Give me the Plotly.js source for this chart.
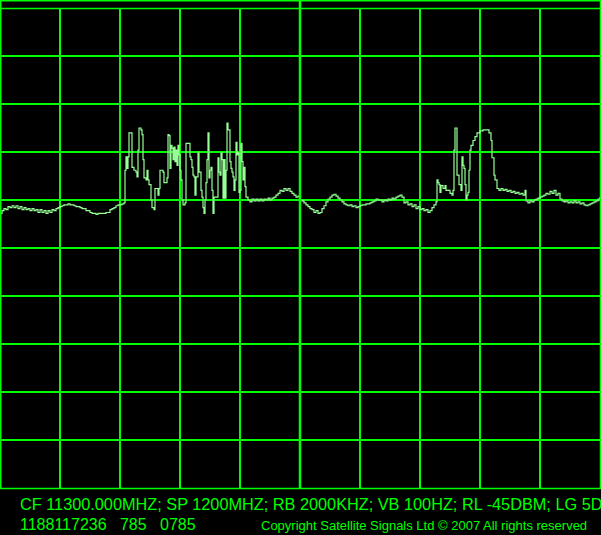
<!DOCTYPE html>
<html>
<head>
<meta charset="utf-8">
<script src="https://cdn.plot.ly/plotly-3.0.1.min.js"></script>
<style>html,body{margin:0;padding:0;background:#000;}#chart{width:601px;height:535px;}</style>
</head>
<body>
<div id="chart"></div>
<script>
// Noise floor, low band (MHz, dBm)
const freqA = [10700,10704,10708,10712,10716,10720,10724,10728,10732,10736,10740,10744,10748,10752,10756,10760,10764,10768,10772,10776,10780,10784,10788,10792,10796,10800,10804,10808,10812,10816,10820,10824,10828,10832,10836,10840,10844,10848,10852,10856,10860,10864,10868,10872,10876,10880,10884,10888,10892,10896,10900,10904,10908,10912,10916,10920,10924,10928,10932,10936,10940,10944,10948];
const levelA = [-66.4,-66.1,-65.9,-66.0,-65.7,-65.8,-65.6,-65.8,-65.6,-65.9,-65.7,-66.0,-65.8,-66.0,-65.9,-66.1,-65.9,-66.1,-66.0,-66.3,-66.0,-66.3,-66.1,-66.4,-66.1,-66.3,-66.0,-66.1,-65.9,-65.8,-65.7,-65.6,-65.5,-65.5,-65.4,-65.5,-65.5,-65.6,-65.7,-65.7,-65.8,-65.9,-65.9,-66.1,-66.1,-66.3,-66.4,-66.4,-66.5,-66.4,-66.4,-66.4,-66.4,-66.3,-66.3,-66.0,-65.9,-65.8,-65.6,-65.5,-65.5,-65.4,-65.3];

// First carrier group
const freqB = [10950,10952,10954,10956,10958,10962,10964,10968,10972,10974,10976,10978,10982,10984,10986,10988,10992,10994,10996,10998,11002,11004,11008,11010,11014,11016,11018,11020,11026,11028,11032,11034,11036,11038,11040,11042,11044,11046,11048,11050,11052,11054,11056,11058,11060,11062,11064,11066,11070,11072,11078,11080,11082,11084,11086,11088,11090,11092,11096,11098,11102,11104,11106,11108,11110,11112,11114,11116,11118,11120,11122,11124,11126,11128,11132,11136,11138,11140,11142,11144,11146,11148,11150,11152,11154,11156,11160,11162,11164,11166,11168,11170,11172,11174,11176,11178,11180,11182,11184,11186,11188,11190,11192];
const levelB = [-61.9,-60.5,-61.7,-60.5,-58.0,-58.0,-61.6,-61.9,-62.1,-62.6,-59.8,-57.5,-57.7,-58.2,-60.8,-62.7,-62.9,-61.9,-62.9,-63.4,-65.0,-65.8,-66.0,-63.8,-63.8,-64.5,-63.8,-61.9,-62.1,-63.2,-63.2,-62.7,-58.2,-58.3,-61.7,-59.3,-59.6,-60.8,-59.5,-61.0,-59.8,-61.4,-59.3,-60.3,-61.9,-62.9,-65.0,-65.5,-65.3,-59.1,-59.1,-60.5,-60.8,-61.6,-62.4,-62.6,-64.5,-62.6,-60.0,-62.1,-64.0,-64.7,-65.8,-66.4,-65.0,-63.2,-60.8,-58.0,-62.7,-61.9,-61.6,-64.0,-66.4,-64.7,-64.7,-60.6,-62.1,-62.4,-60.1,-60.8,-64.8,-60.8,-64.8,-61.9,-57.0,-57.7,-61.0,-61.7,-62.1,-62.6,-64.0,-62.9,-59.0,-60.3,-60.1,-64.2,-64.0,-59.1,-61.0,-62.9,-61.6,-63.6,-64.7];

// Noise floor, mid band
const freqC = [11196,11200,11204,11208,11212,11216,11220,11224,11228,11232,11236,11240,11244,11248,11252,11256,11260,11264,11268,11272,11276,11280,11284,11288,11292,11296,11300,11304,11308,11312,11316,11320,11324,11328,11332,11336,11340,11344,11348,11352,11356,11360,11364,11368,11372,11376,11380,11384,11388,11392,11396,11400,11404,11408,11412,11416,11420,11424,11428,11432,11436,11440,11444,11448,11452,11456,11460,11464,11468,11472,11476,11480,11484,11488,11492,11496,11500,11504,11508,11512,11516,11520,11524,11528,11532,11536,11540,11544,11548,11552,11556,11560,11564,11568,11572];
const levelC = [-65.0,-65.2,-64.9,-65.1,-64.9,-65.1,-64.9,-65.1,-64.9,-65.0,-64.8,-65.0,-64.8,-64.7,-64.5,-64.3,-64.0,-64.1,-63.8,-64.0,-63.8,-64.1,-64.3,-64.5,-64.7,-64.6,-65.0,-65.1,-65.3,-65.5,-65.7,-65.9,-66.0,-66.3,-66.1,-66.4,-66.3,-65.9,-65.6,-65.2,-64.9,-64.7,-64.5,-64.4,-64.6,-64.8,-65.0,-65.2,-65.4,-65.5,-65.6,-65.5,-65.7,-65.6,-65.8,-65.7,-65.6,-65.5,-65.5,-65.4,-65.4,-65.3,-65.2,-65.1,-64.9,-65.0,-65.0,-65.2,-65.0,-65.1,-64.9,-65.0,-64.8,-64.9,-64.7,-64.6,-64.5,-64.7,-65.3,-65.2,-65.5,-65.4,-65.7,-65.5,-65.9,-65.7,-66.0,-65.9,-66.1,-66.0,-66.3,-66.1,-65.8,-65.5,-65.2];

// Second carrier group and high band
const freqD = [11574,11576,11578,11580,11582,11586,11590,11592,11596,11600,11604,11606,11608,11610,11612,11614,11618,11622,11624,11626,11628,11630,11632,11634,11636,11638,11640,11642,11646,11650,11654,11660,11666,11674,11678,11682,11684,11688,11690,11694,11698,11702,11706,11710,11714,11718,11722,11726,11730,11734,11738,11742,11746,11750,11752,11756,11760,11764,11768,11772,11776,11780,11784,11788,11792,11796,11800,11804,11808,11812,11816,11820,11824,11828,11832,11836,11840,11844,11848,11852,11856,11860,11864,11868,11872,11876,11880,11884,11888,11892,11896,11900];
const levelD = [-62.9,-63.2,-63.4,-64.2,-63.5,-63.8,-63.5,-64.0,-64.0,-64.3,-64.5,-64.0,-59.8,-57.5,-57.5,-62.4,-63.4,-64.0,-60.5,-61.4,-61.7,-63.4,-65.0,-64.5,-64.2,-61.9,-59.8,-59.3,-58.8,-58.4,-58.0,-57.8,-57.7,-57.7,-58.0,-58.8,-60.6,-62.4,-62.9,-63.8,-64.0,-63.8,-64.0,-63.9,-64.1,-64.0,-64.2,-64.1,-64.3,-64.2,-64.4,-64.3,-64.5,-64.0,-65.1,-65.3,-65.1,-65.2,-65.0,-64.9,-64.8,-64.7,-64.6,-64.5,-64.3,-64.4,-64.1,-64.3,-64.0,-64.5,-64.3,-64.9,-65.1,-65.2,-65.1,-65.3,-65.2,-65.3,-65.1,-65.3,-65.2,-65.4,-65.3,-65.5,-65.6,-65.5,-65.4,-65.3,-65.2,-65.1,-64.9,-64.7];

const settingsLine = "CF 11300.000MHZ; SP 1200MHZ; RB 2000KHZ; VB 100HZ; RL -45DBM; LG 5DB";
const idLine = "1188117236&nbsp;&nbsp;&nbsp;785&nbsp;&nbsp;&nbsp;0785";
const copyrightLine = "Copyright Satellite Signals Ltd © 2007 All rights reserved";

const freq = freqA.concat(freqB, freqC, freqD);
const level = levelA.concat(levelB, levelC, levelD);

const GREEN = '#00ff00';
const TRACE = '#96ff96';
// plot area: x 0..600, y 8..488 px
const PW = 600, PH = 480, PL = 0, PB = 488;
const px = x => (x - PL) / PW;
const py = y => (PB - y) / PH;

const axisCommon = {
  showgrid: true, gridcolor: GREEN, gridwidth: 1.5,
  zeroline: false, showticklabels: false, ticks: '',
  showline: false, fixedrange: true
};

const data = [{
  x: freq, y: level, type: 'scatter', mode: 'lines',
  line: {color: TRACE, width: 1.2, shape: 'hv'},
  hoverinfo: 'skip'
}];

const hline = (yy, w) => ({type: 'line', xref: 'paper', yref: 'paper', x0: px(0), x1: px(601), y0: py(yy), y1: py(yy), line: {color: GREEN, width: w}});
const vline = (xx, w) => ({type: 'line', xref: 'paper', yref: 'paper', x0: px(xx), x1: px(xx), y0: py(0), y1: py(488.5), line: {color: GREEN, width: w}});

const layout = {
  width: 601, height: 535,
  margin: {l: 0, r: 1, t: 8, b: 47, pad: 0},
  paper_bgcolor: '#000', plot_bgcolor: '#000',
  showlegend: false,
  xaxis: Object.assign({range: [10700, 11900], tick0: 10700, dtick: 120}, axisCommon),
  yaxis: Object.assign({range: [-95, -45], tick0: -95, dtick: 5}, axisCommon),
  shapes: [
    hline(0.75, 1.5), hline(8.5, 1.5), hline(488.5, 1.5),
    vline(0.75, 1.5), vline(600.5, 1.5),
    {type: 'line', xref: 'x', yref: 'paper', x0: 11300, x1: 11300, y0: py(488.5), y1: py(0), line: {color: GREEN, width: 2.5}}
  ],
  annotations: [
    {text: settingsLine, xref: 'paper', yref: 'paper', x: px(18), y: py(504), xanchor: 'left', yanchor: 'middle', showarrow: false,
     font: {family: 'Liberation Sans, Arial, sans-serif', size: 16.3, color: GREEN}},
    {text: idLine, xref: 'paper', yref: 'paper', x: px(18), y: py(524.5), xanchor: 'left', yanchor: 'middle', showarrow: false,
     font: {family: 'Liberation Sans, Arial, sans-serif', size: 16, color: GREEN}},
    {text: copyrightLine, xref: 'paper', yref: 'paper', x: px(259), y: py(525.5), xanchor: 'left', yanchor: 'middle', showarrow: false,
     font: {family: 'Liberation Sans, Arial, sans-serif', size: 13, color: GREEN}}
  ]
};

Plotly.newPlot('chart', data, layout, {staticPlot: true, displayModeBar: false});
</script>
</body>
</html>
